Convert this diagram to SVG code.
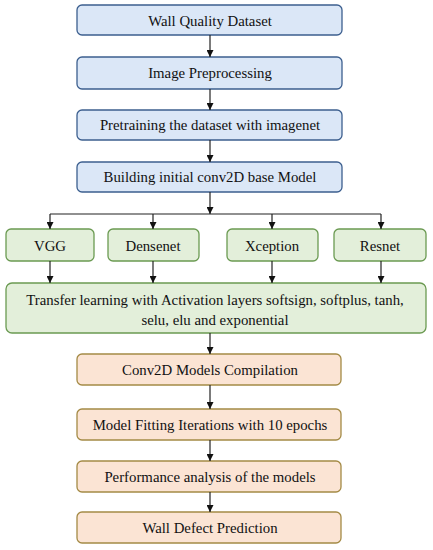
<svg xmlns="http://www.w3.org/2000/svg" width="433" height="550" viewBox="0 0 433 550">
<style>
text{font-family:"Liberation Serif","Times New Roman",serif;font-size:14.8px;fill:#111;text-anchor:middle}
.b{fill:#dbe7f7;stroke:#3c5f8f;stroke-width:1.3}
.g{fill:#e3efda;stroke:#6b9a52;stroke-width:1.3}
.o{fill:#fbe4d4;stroke:#a48a45;stroke-width:1.3}
.c{stroke:#222;stroke-width:1.2;fill:none;marker-end:url(#a)}
.l{stroke:#222;stroke-width:1.2;fill:none}
</style>
<defs><marker id="a" viewBox="0 0 10 10" refX="10" refY="5" markerWidth="7" markerHeight="7" markerUnits="userSpaceOnUse" orient="auto"><path d="M0,0L10,5L0,10z" fill="#111"/></marker></defs>
<rect width="433" height="550" fill="#fff"/>
<g id="n1"><rect class="b" x="77" y="5" width="265" height="30" rx="5"/><text x="210" y="26">Wall Quality Dataset</text></g>
<g id="n2"><rect class="b" x="77" y="57" width="265" height="32" rx="5"/><text x="210" y="78">Image  Preprocessing</text></g>
<g id="n3"><rect class="b" x="77" y="110" width="265" height="30" rx="5"/><text x="210" y="130">Pretraining the dataset with imagenet</text></g>
<g id="n4"><rect class="b" x="77" y="162" width="265" height="30" rx="5"/><text x="210" y="182">Building initial conv2D base Model</text></g>
<g id="vgg"><rect class="g" x="6" y="229" width="88" height="32" rx="5"/><text x="50" y="251">VGG</text></g>
<g id="dense"><rect class="g" x="108" y="229" width="91" height="32" rx="5"/><text x="153" y="251">Densenet</text></g>
<g id="xcep"><rect class="g" x="227" y="229" width="91" height="32" rx="5"/><text x="272" y="251">Xception</text></g>
<g id="res"><rect class="g" x="334" y="229" width="92" height="32" rx="5"/><text x="380" y="251">Resnet</text></g>
<g id="tl"><rect class="g" x="6" y="283" width="420" height="50" rx="6"/><text x="215" y="305">Transfer  learning  with Activation layers  softsign, softplus, tanh,</text><text x="215" y="325">selu, elu and exponential</text></g>
<g id="o1"><rect class="o" x="77" y="354" width="264" height="31" rx="5"/><text x="210" y="375">Conv2D Models Compilation</text></g>
<g id="o2"><rect class="o" x="77" y="409" width="264" height="31" rx="5"/><text x="210" y="430">Model Fitting Iterations with 10 epochs</text></g>
<g id="o3"><rect class="o" x="77" y="461" width="264" height="31" rx="5"/><text x="210" y="482">Performance analysis  of the models</text></g>
<g id="o4"><rect class="o" x="77" y="512" width="264" height="31" rx="5"/><text x="210" y="533">Wall Defect Prediction</text></g>
<g id="connectors">
<path class="c" d="M210,35V57"/>
<path class="c" d="M210,89V110"/>
<path class="c" d="M210,140V162"/>
<path class="c" d="M210,192V214"/>
<path class="l" d="M50,214H381"/>
<path class="c" d="M50,214V229"/>
<path class="c" d="M153,214V229"/>
<path class="c" d="M272,214V229"/>
<path class="c" d="M381,214V229"/>
<path class="c" d="M50,261V283"/>
<path class="c" d="M153,261V283"/>
<path class="c" d="M272,261V283"/>
<path class="c" d="M381,261V283"/>
<path class="c" d="M210,333V354"/>
<path class="c" d="M210,385V409"/>
<path class="c" d="M210,440V461"/>
<path class="c" d="M210,492V512"/>
</g>
</svg>
